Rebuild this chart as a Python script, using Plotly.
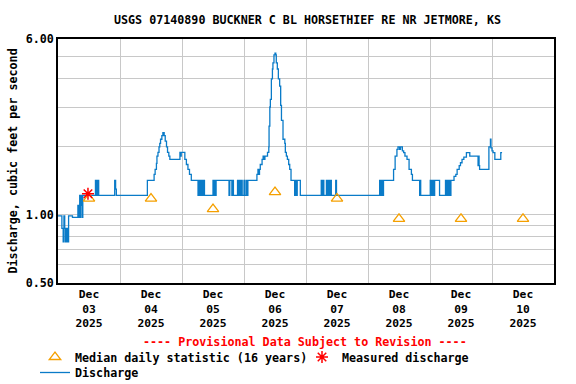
import math
import pandas as pd
import plotly.graph_objects as go

# ---------------- data ----------------
base_time = pd.Timestamp("2025-12-03 00:00")

# Discharge (cfs), breakpoints: hours after Dec 03 00:00
disch_hours = [
    0, 1.5, 2.0, 2.3, 2.6, 2.9, 3.1, 3.3, 3.6, 3.8, 4.1, 5.6, 7.7, 8.0, 8.4, 8.6, 8.8, 9.0, 9.2, 9.4, 9.6,
    14.5, 14.7, 15.0, 15.2, 15.4, 15.75, 21.95, 22.3, 22.6,
    34.6, 37.2, 37.6, 38.1, 38.3, 38.7, 39.1, 39.4, 39.7, 40.2, 40.6, 41.1, 41.5, 42.0, 42.4, 42.9, 43.3,
    47.2, 47.5, 47.7, 49.1, 49.7, 50.3, 50.9, 51.6,
    54.2, 54.5, 54.8, 55.1, 55.4, 55.7, 56.0, 56.4, 56.7, 60.0, 60.3, 60.6, 60.9, 61.2,
    66.2, 66.5, 67.3, 67.6, 67.9, 69.5, 69.8, 70.2, 70.6, 70.9, 71.3, 72.0, 72.3, 72.9, 73.2, 73.5,
    77.0, 77.4, 77.7, 78.0, 78.3, 79.0, 79.4, 79.7, 80.1, 81.1, 81.6, 81.7, 82.0, 82.2, 82.6, 83.0,
    83.2, 83.6, 84.0, 84.3, 84.5, 84.9, 85.3, 85.8, 86.2, 86.5, 87.1, 87.8, 88.0, 88.4, 88.8, 89.3,
    89.7, 90.2, 91.6, 91.9, 92.3, 92.6, 93.8,
    101.9, 102.3, 102.6, 102.9, 103.9, 104.3, 104.7, 105.1, 105.4, 105.8, 107.5, 107.8,
    124.5, 124.9, 125.3, 125.7, 126.0, 129.9, 130.5, 131.2, 131.6, 132.2, 132.6, 133.3, 133.8, 134.3,
    135.1, 135.9, 136.8, 137.2, 140.0, 140.2, 140.4, 144.1, 144.4, 144.7, 145.0, 145.3, 145.6, 145.8,
    147.7, 150.0, 150.3, 150.7, 151.0, 151.4, 151.7, 152.1, 153.3, 154.0, 154.5, 155.3, 155.8, 156.4,
    157.1, 158.1, 159.4, 162.6, 162.8, 163.0, 163.2, 166.8, 167.4, 167.6, 168.0, 168.4, 169.1, 171.4, 171.9,
]
disch_cfs = [
    0.99, 0.87, 0.76, 0.99, 0.87, 0.76, 0.87, 0.76, 0.87, 0.76, 0.99, 0.975, 1.10, 0.975, 1.22, 0.975, 1.22, 1.10, 1.22, 0.975, 1.22,
    1.42, 1.22, 1.42, 1.22, 1.42, 1.22, 1.42, 1.30, 1.22,
    1.42, 1.51, 1.59, 1.69, 1.82, 1.89, 2.0, 2.07, 2.16, 2.24, 2.31, 2.24, 2.12, 2.0, 1.89, 1.82, 1.76,
    1.89, 1.82, 1.89, 1.76, 1.67, 1.59, 1.51, 1.42,
    1.22, 1.42, 1.22, 1.42, 1.22, 1.42, 1.22, 1.42, 1.22, 1.42, 1.22, 1.42, 1.22, 1.42,
    1.22, 1.42, 1.22, 1.42, 1.22, 1.42, 1.22, 1.42, 1.22, 1.42, 1.22, 1.42, 1.22, 1.42, 1.22, 1.42,
    1.51, 1.59, 1.51, 1.59, 1.67, 1.76, 1.82, 1.76, 1.82, 1.89, 2.0, 2.47, 3.0, 3.24, 4.0, 4.42,
    4.7, 5.1, 5.2, 5.1, 4.7, 4.42, 4.0, 3.71, 3.05, 2.62, 2.16, 2.07, 1.89, 1.82, 1.76, 1.67,
    1.59, 1.42, 1.22, 1.42, 1.22, 1.42, 1.22,
    1.42, 1.22, 1.42, 1.22, 1.42, 1.22, 1.42, 1.22, 1.42, 1.22, 1.42, 1.22,
    1.42, 1.22, 1.42, 1.22, 1.42, 1.59, 1.82, 1.95, 2.0, 1.95, 2.0, 1.92, 1.885, 1.82,
    1.76, 1.59, 1.51, 1.42, 1.22, 1.42, 1.22, 1.42, 1.22, 1.42, 1.22, 1.42, 1.22, 1.42,
    1.22, 1.42, 1.22, 1.42, 1.22, 1.42, 1.22, 1.42, 1.48, 1.51, 1.59, 1.65, 1.70, 1.76,
    1.80, 1.885, 1.82, 1.65, 1.82, 1.65, 1.59, 2.0, 2.16, 1.98, 1.92, 1.885, 1.76, 1.885, 1.885,
]

median_dates = ["2025-12-03 12:00", "2025-12-04 12:00", "2025-12-05 12:00", "2025-12-06 12:00",
                "2025-12-07 12:00", "2025-12-08 12:00", "2025-12-09 12:00", "2025-12-10 12:00"]
median_cfs = [1.18, 1.18, 1.06, 1.26, 1.18, 0.96, 0.96, 0.96]

measured_dates = ["2025-12-03 11:36"]
measured_cfs = [1.24]

y_tick_vals = [0.5, 0.6, 0.7, 0.8, 0.9, 1, 2, 3, 4, 5, 6]
y_tick_text = ["0.50", "", "", "", "", "1.00", "", "", "", "", "6.00"]

title_text = "USGS 07140890 BUCKNER C BL HORSETHIEF RE NR JETMORE, KS"
provisional_text = "---- Provisional Data Subject to Revision ----"

# ---------------- figure ----------------
FONT = "DejaVu Sans Mono"
FS = 11.7
times = base_time + pd.to_timedelta(disch_hours, unit="h")

fig = go.Figure()
fig.add_trace(go.Scatter(
    x=times, y=disch_cfs, mode="lines", name="Discharge",
    line=dict(color="#0A7BC8", width=1.3, shape="hv"),
    legend="legend2",
))
fig.add_trace(go.Scatter(
    x=median_dates, y=median_cfs, mode="markers", name="Median daily statistic (16 years)",
    marker=dict(symbol="triangle-up-open", size=10, color="#F5A000", line=dict(width=1.3, color="#F5A000")),
    legend="legend",
))
fig.add_trace(go.Scatter(
    x=measured_dates, y=measured_cfs, mode="markers", name="Measured discharge",
    marker=dict(symbol="asterisk-open", size=10, color="#FF0000", line=dict(width=1.5, color="#FF0000")),
    legend="legend3",
))

legend_common = dict(orientation="h", xref="container", yref="container", xanchor="left", yanchor="middle",
                     font=dict(family=FONT, size=FS, weight="bold"), bgcolor="rgba(0,0,0,0)")

fig.update_layout(
    width=576, height=384,
    margin=dict(l=58, r=22, t=39, b=100),
    paper_bgcolor="white", plot_bgcolor="white",
    font=dict(family=FONT, size=FS, color="black", weight="bold"),
    title=dict(text=title_text, x=0.503, xref="paper", y=1 - 20 / 384, yanchor="middle", xanchor="center",
               font=dict(family=FONT, size=FS, color="black", weight="bold")),
    showlegend=True,
    legend=dict(x=35 / 576, y=1 - 357 / 384, **legend_common),
    legend3=dict(x=302 / 576, y=1 - 357 / 384, **legend_common),
    legend2=dict(x=35 / 576, y=1 - 372.5 / 384, **legend_common),
    annotations=[dict(text=provisional_text, xref="paper", yref="paper", x=0.498, y=(284 - 343) / 244.7,
                      xanchor="center", yanchor="middle", showarrow=False,
                      font=dict(family=FONT, size=FS, color="#FF0000", weight="bold"))],
)

fig.update_xaxes(
    type="date", range=["2025-12-03 00:00", "2025-12-11 00:00"],
    tick0="2025-12-03", dtick=86400000, ticklabelmode="period", tickformat="%b<br>%d<br>%Y",
    showgrid=True, gridcolor="#C8C8C8", gridwidth=1, zeroline=False,
    showline=True, linecolor="black", linewidth=1.5, mirror=True, ticks="",
    tickfont=dict(family=FONT, size=11.3, color="black", weight="bold"),
)
fig.update_yaxes(
    type="log", range=[math.log10(0.5), math.log10(6)],
    tickmode="array", tickvals=y_tick_vals, ticktext=y_tick_text,
    showgrid=True, gridcolor="#C8C8C8", gridwidth=1, zeroline=False,
    showline=True, linecolor="black", linewidth=1.5, mirror=True, ticks="",
    tickfont=dict(family=FONT, size=FS, color="black", weight="bold"),
    title=dict(text="Discharge, cubic feet per second", standoff=6,
               font=dict(family=FONT, size=FS, color="black", weight="bold")),
)

fig.write_html(
    "out.html",
    config={"displayModeBar": False},
    post_script="document.body.style.margin='0px';document.body.style.overflow='hidden';",
)
